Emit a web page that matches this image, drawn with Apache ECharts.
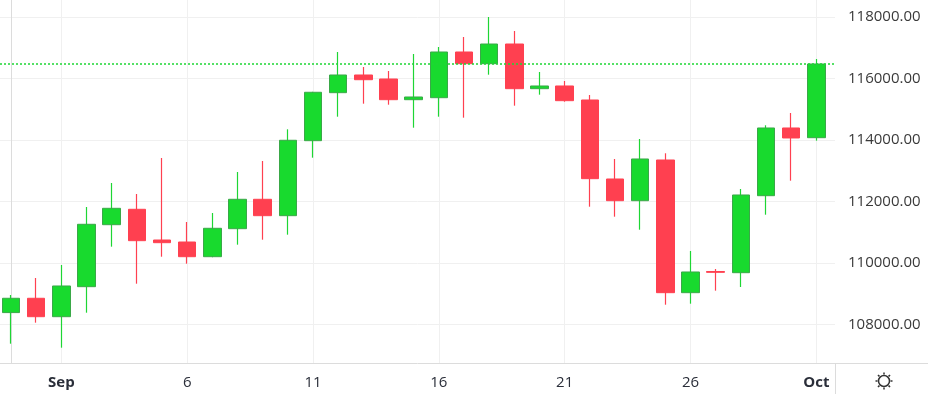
<!DOCTYPE html>
<html>
<head>
<meta charset="utf-8">
<script src="https://cdn.jsdelivr.net/npm/echarts@6/dist/echarts.min.js"></script>
<style>
  html, body { margin: 0; padding: 0; background: #fff; }
  #chart { width: 928px; height: 394px; }
</style>
</head>
<body>
<div id="chart"></div>
<script>
// ---- data ----
const dates = ['Aug 30','Aug 31','Sep 1','Sep 2','Sep 3','Sep 4','Sep 5','Sep 6','Sep 7','Sep 8','Sep 9',
  'Sep 10','Sep 11','Sep 12','Sep 13','Sep 14','Sep 15','Sep 16','Sep 17','Sep 18','Sep 19','Sep 20',
  'Sep 21','Sep 22','Sep 23','Sep 24','Sep 25','Sep 26','Sep 27','Sep 28','Sep 29','Sep 30','Oct 1'];
const openV  = [108380,108846,108247,109223,111239,111740,110741,110676,110198,111109,112065,
  111532,113971,115532,116107,115977,115304,115369,116855,116475,117115,115662,
  115750,115294,112725,112020,113343,109028,109717,109678,112182,114384,114068];
const closeV = [108846,108247,109246,111252,111772,110719,110654,110198,111122,112065,111532,
  113984,115545,116107,115954,115304,115392,116855,116475,117115,115662,115750,
  115272,112735,112020,113376,109028,109701,109690,112205,114384,114059,116465];
const lowV   = [107369,108052,107239,108377,110524,109320,110198,109971,110180,110589,110751,
  110914,113418,114751,115174,115141,114393,114751,114719,116117,115109,115467,
  115239,111824,111499,111076,108637,108670,109093,109213,111564,112670,113971];
const highV  = [108953,109506,109929,111815,112595,112237,113408,111327,111619,112953,113311,
  114341,115560,116855,116367,116237,116790,117018,117343,117993,117538,116205,
  115912,115457,113376,114026,113561,110384,109798,112400,114472,114872,116628];
const xTickIndex = [2, 7, 12, 17, 22, 27, 32];
const xTickLabels = ['Sep', '6', '11', '16', '21', '26', 'Oct'];
const yTicks = [108000, 110000, 112000, 114000, 116000, 118000];

// ---- build series data ----
const fullData = dates.map((d, i) => [i, openV[i], closeV[i], lowV[i], highV[i]]);
const bodyData = dates.map((d, i) => [i, openV[i], closeV[i],
  Math.min(openV[i], closeV[i]), Math.max(openV[i], closeV[i])]);
const lastClose = closeV[closeV.length - 1];

const UP = '#18da2e', DOWN = '#ff4050';
const FONT = '"Open Sans", sans-serif';

// gear icon decoration
const gear = [];
const gx = 884, gy = 381;
gear.push({ type: 'circle', shape: { cx: gx, cy: gy, r: 5.5 }, style: { fill: 'none', stroke: '#333', lineWidth: 1.5 } });
for (let k = 0; k < 8; k++) {
  const a = k * Math.PI / 4;
  gear.push({ type: 'line', shape: { x1: gx + Math.cos(a) * 6.5, y1: gy + Math.sin(a) * 6.5, x2: gx + Math.cos(a) * 8.5, y2: gy + Math.sin(a) * 8.5 },
    style: { stroke: '#333', lineWidth: 1.5 } });
}

const chart = echarts.init(document.getElementById('chart'), null, { renderer: 'canvas' });
chart.setOption({
  animation: false,
  backgroundColor: '#fff',
  grid: { left: 0, right: 93, top: 0, bottom: 31 },
  xAxis: {
    type: 'value',
    min: -0.437,
    max: 32.74,
    axisLine: { show: true, lineStyle: { color: '#dcdcdc', width: 1 } },
    axisTick: { show: false, customValues: xTickIndex },
    splitLine: { show: true, lineStyle: { color: '#f0f0f0', width: 1 } },
    axisLabel: {
      customValues: xTickIndex,
      margin: 12,
      fontFamily: FONT,
      fontSize: 15,
      color: '#2a2e39',
      formatter: function (v) {
        const idx = xTickIndex.indexOf(Math.round(v));
        const t = idx >= 0 ? xTickLabels[idx] : '';
        return (t === 'Sep' || t === 'Oct') ? '{b|' + t + '}' : t;
      },
      rich: { b: { fontFamily: FONT, fontSize: 15, fontWeight: 'bold', color: '#2a2e39' } }
    }
  },
  yAxis: {
    type: 'value',
    position: 'right',
    min: 106741,
    max: 118546,
    axisLine: { show: true, lineStyle: { color: '#dcdcdc', width: 1 } },
    axisTick: { show: false, customValues: yTicks },
    splitLine: { show: true, lineStyle: { color: '#f0f0f0', width: 1 } },
    axisLabel: {
      customValues: yTicks,
      margin: 13,
      fontFamily: FONT,
      fontSize: 15,
      color: '#3a3a3a',
      formatter: function (v) { return v.toFixed(2); }
    }
  },
  series: [
    {
      name: 'wicks',
      type: 'candlestick',
      data: fullData,
      encode: { x: 0, y: [1, 2, 3, 4] },
      barWidth: 1,
      itemStyle: { color: UP, color0: DOWN, borderColor: '#1ed634', borderColor0: DOWN, borderWidth: 1.2 },
      silent: true
    },
    {
      name: 'bodies',
      type: 'candlestick',
      data: bodyData,
      encode: { x: 0, y: [1, 2, 3, 4] },
      barWidth: 18,
      itemStyle: { color: UP, color0: DOWN, borderColor: '#3aa848', borderColor0: DOWN, borderWidth: 1 },
      markLine: {
        silent: true,
        symbol: ['none', 'none'],
        label: { show: false },
        lineStyle: { color: '#1ed634', type: [2, 2], width: 1.5 },
        data: [{ yAxis: lastClose }]
      }
    }
  ],
  graphic: [
    { type: 'line', shape: { x1: 835.5, y1: 363, x2: 835.5, y2: 394 }, style: { stroke: '#dcdcdc', lineWidth: 1 } },
    { type: 'line', shape: { x1: 835, y1: 363.5, x2: 928, y2: 363.5 }, style: { stroke: '#dcdcdc', lineWidth: 1 } }
  ].concat(gear)
});
</script>
</body>
</html>
